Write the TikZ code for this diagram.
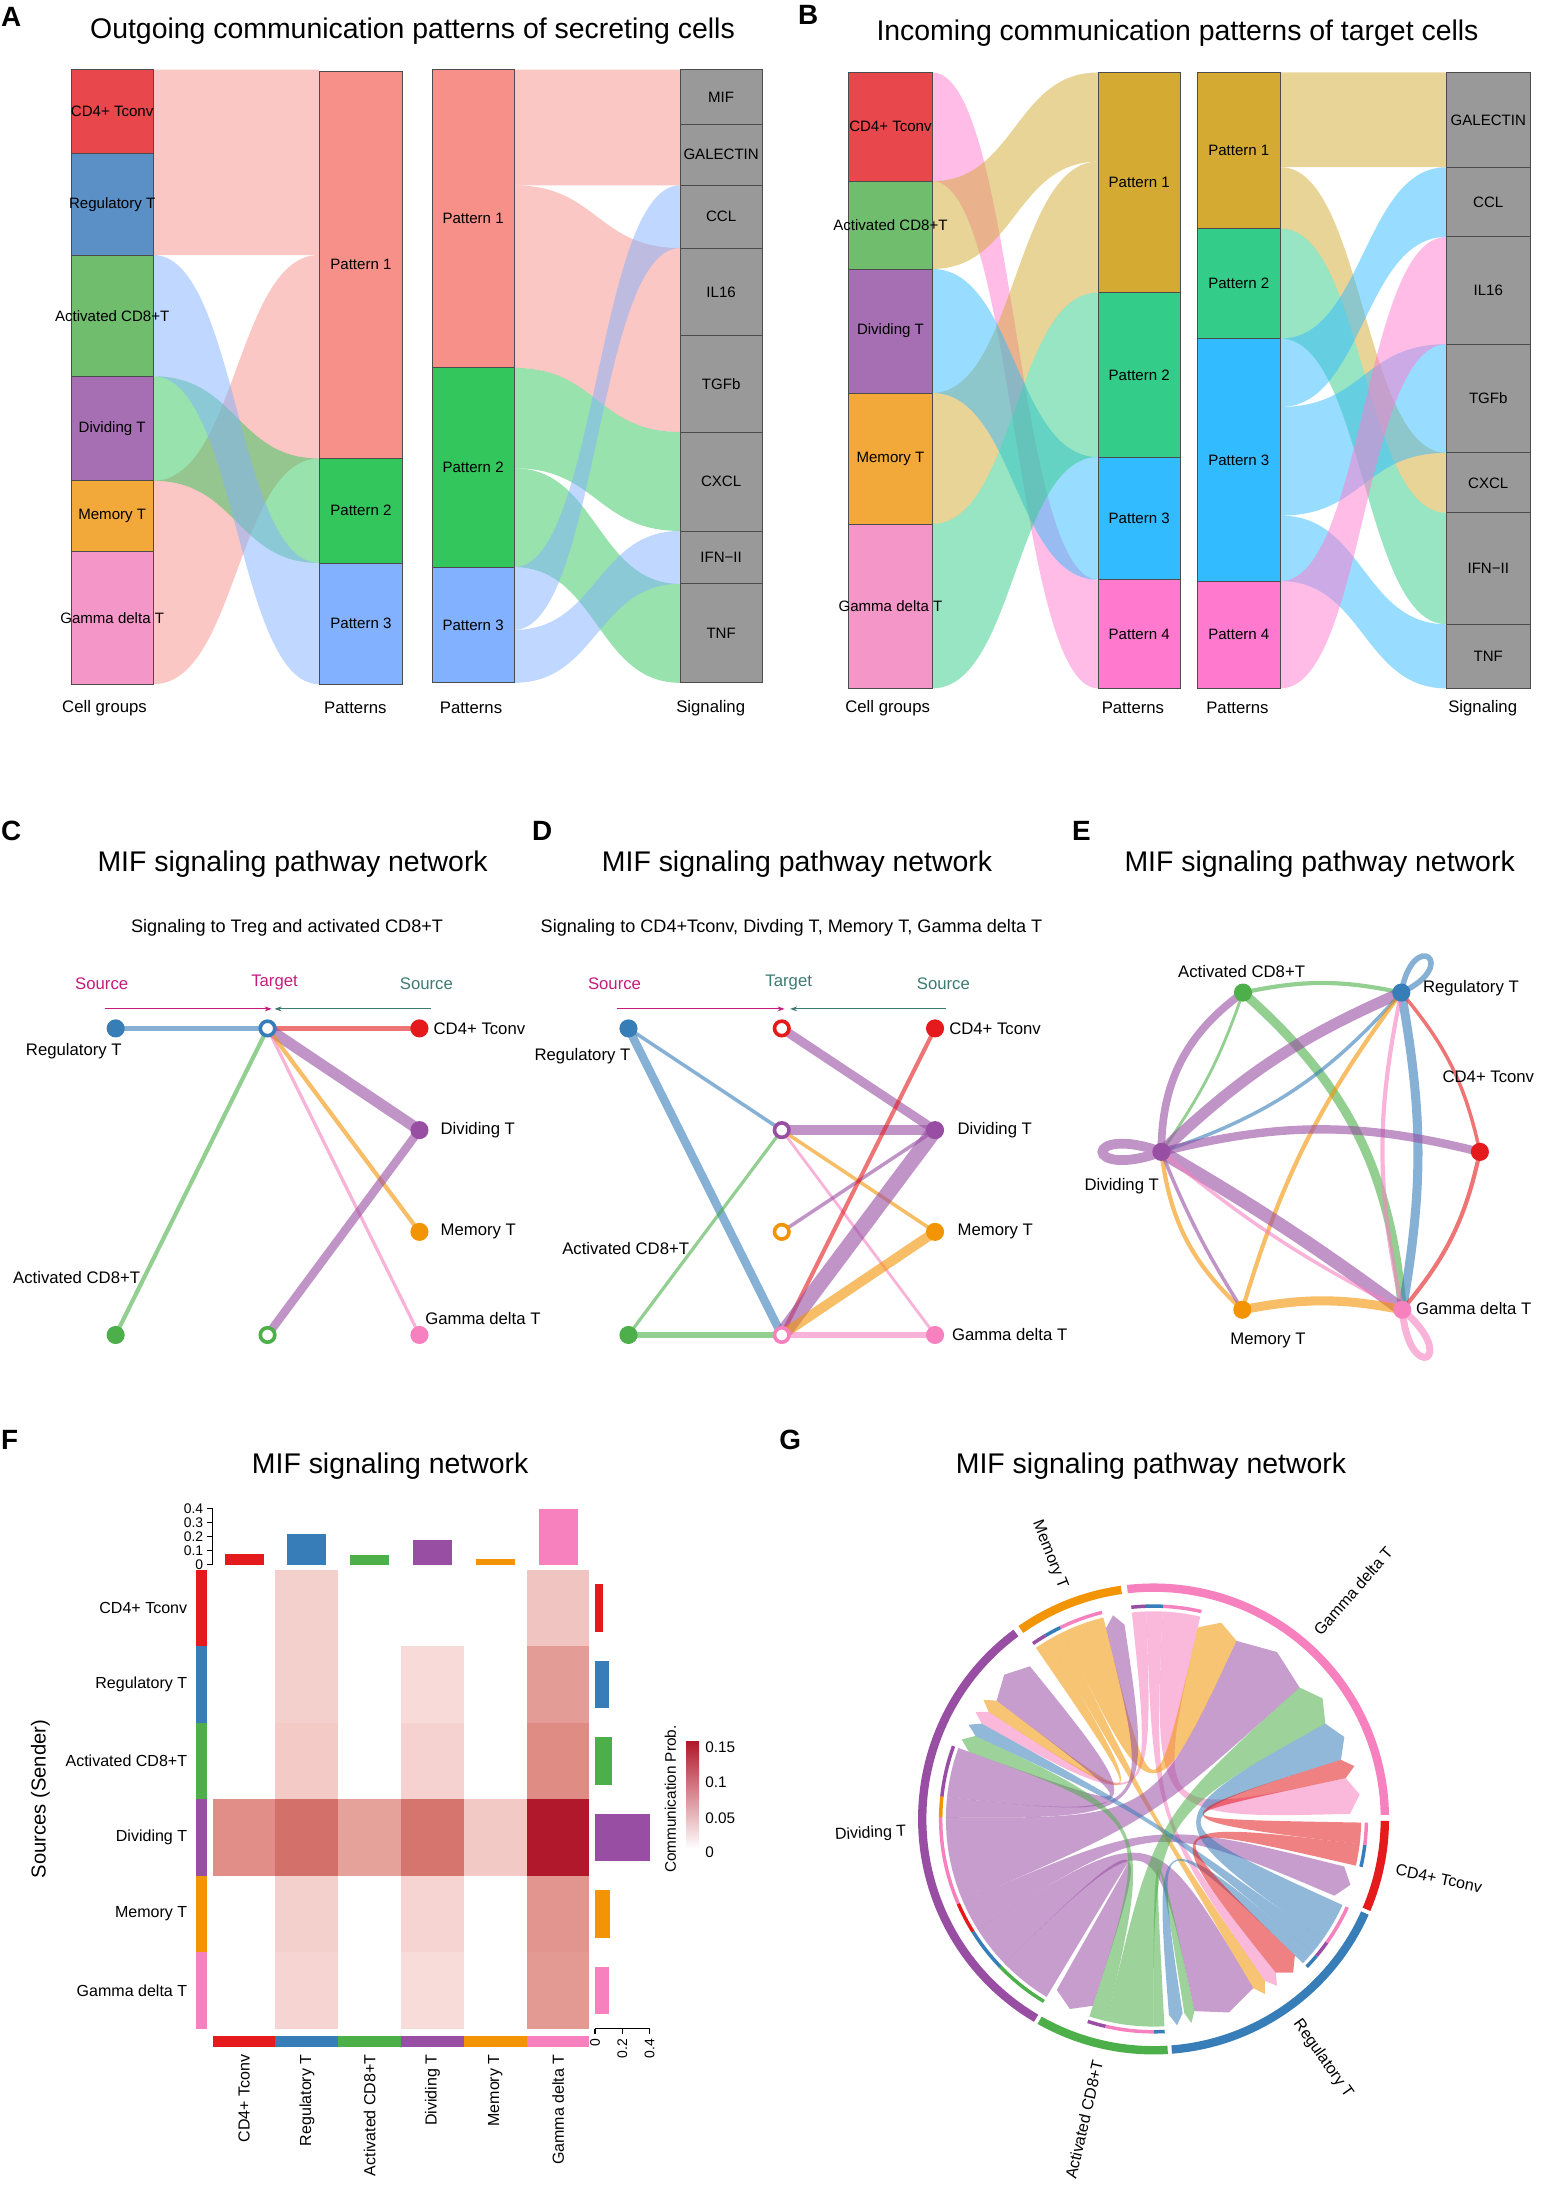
\documentclass[tikz,border=0pt]{standalone}
\usepackage{fontspec}
\setmainfont{Liberation Sans}
\usetikzlibrary{arrows.meta}

\definecolor{cd4}{HTML}{E41A1C}
\definecolor{treg}{HTML}{377EB8}
\definecolor{cd8}{HTML}{4DAF4A}
\definecolor{divi}{HTML}{984EA3}
\definecolor{memo}{HTML}{F29403}
\definecolor{gdt}{HTML}{F781BF}
\definecolor{rCD4}{HTML}{E8474B}
\definecolor{rReg}{HTML}{5A90C6}
\definecolor{rCD8}{HTML}{70BD6D}
\definecolor{rDiv}{HTML}{A66FB3}
\definecolor{rMem}{HTML}{F3A93A}
\definecolor{rGdt}{HTML}{F596C9}
\definecolor{pA1}{HTML}{F8908A}
\definecolor{pA2}{HTML}{33C65C}
\definecolor{pA3}{HTML}{82B1FF}
\definecolor{pB1}{HTML}{D4AA33}
\definecolor{pB2}{HTML}{33CC88}
\definecolor{pB3}{HTML}{33BBFF}
\definecolor{pB4}{HTML}{FF7ACF}
\definecolor{sig}{HTML}{999999}
\definecolor{srcc}{HTML}{C51B7D}
\definecolor{tgtc}{HTML}{3D7A72}
\definecolor{hmDark}{HTML}{B2182B}
\definecolor{hmMid}{HTML}{E0908A}

\pgfdeclarelayer{paper}
\pgfdeclarelayer{bg}
\pgfsetlayers{paper,bg,main}

\tikzset{
  panel/.style={font=\fontsize{20}{24}\selectfont\bfseries},
  ttl/.style={font=\fontsize{20.4}{24}\selectfont},
  subttl/.style={font=\fontsize{13}{15}\selectfont},
  axlbl/.style={font=\fontsize{12}{14}\selectfont},
  boxlbl/.style={font=\fontsize{10.8}{12}\selectfont, inner sep=0pt},
  nlbl/.style={font=\fontsize{12}{14}\selectfont, inner sep=1pt},
  smlbl/.style={font=\fontsize{11.5}{13}\selectfont, inner sep=1.5pt},
  tklbl/.style={font=\fontsize{10}{11}\selectfont, inner sep=1pt},
  boxline/.style={draw=black!70, line width=0.6pt},
  cdot/.style={circle, fill=#1, inner sep=0pt, minimum size=13pt},
  ring/.style={circle, draw=#1, fill=white, line width=2.6pt, inner sep=0pt, minimum size=10.4pt},
  wire/.style={line width=#1pt, opacity=.6},
  hier/.style={line width=0.8pt, -{Stealth[length=5pt,width=3.5pt]}},
}

\begin{document}
\begin{tikzpicture}[x=1pt, y=-1pt]
\begin{pgfonlayer}{paper}
\fill[white] (0,0) rectangle (1108,1568);
\end{pgfonlayer}
\useasboundingbox (0,0) rectangle (1108,1568);

\node[panel] (A) at (8,12) {A};
\node[ttl] (ttlA) at (296,22) {Outgoing communication patterns of secreting cells};
\foreach \ya/\yb/\yc/\yd/\cl in {50/183/50/183/pA1, 345/491/183/329/pA1, 270/345/329/404/pA2, 183/270/404/491/pA3}
  \fill[\cl, opacity=.5] (110,\ya) .. controls (170,\ya) and (170,\yc) .. (229,\yc) -- (229,\yd) .. controls (170,\yd) and (170,\yb) .. (110,\yb) -- cycle;
\foreach \ya/\yb/\yc/\yd/\cl in {50/133/50/133/pA1, 133/264/178/310/pA1, 264/336/310/381/pA2, 336/407/419/490/pA2, 407/452/133/178/pA3, 452/490/381/419/pA3}
  \fill[\cl, opacity=.5] (369,\ya) .. controls (428.5,\ya) and (428.5,\yc) .. (488,\yc) -- (488,\yd) .. controls (428.5,\yd) and (428.5,\yb) .. (369,\yb) -- cycle;
\foreach \k/\ya/\yb/\cl/\lab in {1/50/110/rCD4/CD4+ Tconv, 2/110/183/rReg/Regulatory T, 3/183/270/rCD8/Activated CD8+T, 4/270/345/rDiv/Dividing T, 5/345/396/rMem/Memory T, 6/396/491/rGdt/Gamma delta T} {
  \draw[boxline, fill=\cl] (51,\ya) rectangle (110,\yb);
  \node[boxlbl] (aCell\k) at (80.5,{(\ya+\yb)/2}) {\lab};
}
\foreach \k/\ya/\yb/\cl in {1/51/329/pA1, 2/329/404/pA2, 3/404/491/pA3} {
  \draw[boxline, fill=\cl] (229,\ya) rectangle (289,\yb);
  \node[boxlbl] (aPatL\k) at (259,{(\ya+\yb)/2}) {Pattern \k};
}
\foreach \k/\ya/\yb/\cl in {1/50/264/pA1, 2/264/407/pA2, 3/407/490/pA3} {
  \draw[boxline, fill=\cl] (310,\ya) rectangle (369,\yb);
  \node[boxlbl] (aPatR\k) at (339.5,{(\ya+\yb)/2}) {Pattern \k};
}
\foreach \k/\ya/\yb/\lab in {1/50/89/MIF, 2/89/133/GALECTIN, 3/133/178/CCL, 4/178/241/IL16, 5/241/310/TGFb, 6/310/381/CXCL, 7/381/419/IFN−II, 8/419/490/TNF} {
  \draw[boxline, fill=sig] (488,\ya) rectangle (547,\yb);
  \node[boxlbl] (aSig\k) at (517.5,{(\ya+\yb)/2}) {\lab};
}
\node[axlbl] (aX1) at (75,508) {Cell groups};
\node[axlbl] (aX2) at (255,508) {Patterns};
\node[axlbl] (aX3) at (338,508) {Patterns};
\node[axlbl] (aX4) at (510,508) {Signaling};

\node[panel] (B) at (580,11) {B};
\node[ttl] (ttlB) at (845,24) {Incoming communication patterns of target cells};
\foreach \ya/\yb/\yc/\yd/\cl in {52/130/416/494/pB4, 130/193/52/116/pB1, 282/376/116/210/pB1, 193/282/328/416/pB3, 376/494/210/328/pB2}
  \fill[\cl, opacity=.5] (669,\ya) .. controls (728.5,\ya) and (728.5,\yc) .. (788,\yc) -- (788,\yd) .. controls (728.5,\yd) and (728.5,\yb) .. (669,\yb) -- cycle;
\foreach \ya/\yb/\yc/\yd/\cl in {52/120/52/120/pB1, 120/164/325/368/pB1, 164/243/368/448/pB2, 243/292/120/170/pB3, 292/370/247/325/pB3, 370/417/448/494/pB3, 417/494/170/247/pB4}
  \fill[\cl, opacity=.5] (919,\ya) .. controls (978.5,\ya) and (978.5,\yc) .. (1038,\yc) -- (1038,\yd) .. controls (978.5,\yd) and (978.5,\yb) .. (919,\yb) -- cycle;
\foreach \k/\ya/\yb/\cl/\lab in {1/52/130/rCD4/CD4+ Tconv, 2/130/193/rCD8/Activated CD8+T, 3/193/282/rDiv/Dividing T, 4/282/376/rMem/Memory T, 5/376/494/rGdt/Gamma delta T} {
  \draw[boxline, fill=\cl] (609,\ya) rectangle (669,\yb);
  \node[boxlbl] (bCell\k) at (639,{(\ya+\yb)/2}) {\lab};
}
\foreach \k/\ya/\yb/\cl in {1/52/210/pB1, 2/210/328/pB2, 3/328/416/pB3, 4/416/494/pB4} {
  \draw[boxline, fill=\cl] (788,\ya) rectangle (847,\yb);
  \node[boxlbl] (bPatL\k) at (817.5,{(\ya+\yb)/2}) {Pattern \k};
}
\foreach \k/\ya/\yb/\cl in {1/52/164/pB1, 2/164/243/pB2, 3/243/417/pB3, 4/417/494/pB4} {
  \draw[boxline, fill=\cl] (859,\ya) rectangle (919,\yb);
  \node[boxlbl] (bPatR\k) at (889,{(\ya+\yb)/2}) {Pattern \k};
}
\foreach \k/\ya/\yb/\lab in {1/52/120/GALECTIN, 2/120/170/CCL, 3/170/247/IL16, 4/247/325/TGFb, 5/325/368/CXCL, 6/368/448/IFN−II, 7/448/494/TNF} {
  \draw[boxline, fill=sig] (1038,\ya) rectangle (1098,\yb);
  \node[boxlbl] (bSig\k) at (1068,{(\ya+\yb)/2}) {\lab};
}
\node[axlbl] (bX1) at (637,508) {Cell groups};
\node[axlbl] (bX2) at (813,508) {Patterns};
\node[axlbl] (bX3) at (888,508) {Patterns};
\node[axlbl] (bX4) at (1064,508) {Signaling};

\node[panel] (C) at (8,596) {C};
\node[ttl] (ttlC) at (210,620) {MIF signaling pathway network};
\node[subttl] (subC) at (206,666) {Signaling to Treg and activated CD8+T};
\node[nlbl, srcc] (cSrc1) at (73,706) {Source};
\node[nlbl, srcc] (cTgt) at (197,705) {Target};
\node[nlbl, tgtc] (cSrc2) at (306,706) {Source};
\coordinate (cA1) at (75,724);
\coordinate (cA2) at (195,724);
\coordinate (cB1) at (309,724);
\coordinate (cB2) at (197,724);
\draw[hier, srcc] (cA1) -- (cA2);
\draw[hier, tgtc] (cB1) -- (cB2);
\node[cdot=treg] (cReg) at (83,738) {};
\node[ring=treg] (cRegT) at (192,738) {};
\node[cdot=cd4] (cCD4) at (301,738) {};
\node[cdot=divi] (cDiv) at (301,811) {};
\node[cdot=memo] (cMem) at (301,884) {};
\node[cdot=gdt] (cGdt) at (301,958) {};
\node[cdot=cd8] (cCD8) at (83,958) {};
\node[ring=cd8] (cCD8T) at (192,958) {};
\begin{pgfonlayer}{bg}
\draw[treg, wire=3.5] (cReg.center) -- (cRegT.center);
\draw[cd4, wire=3.5] (cCD4.center) -- (cRegT.center);
\draw[divi, wire=8] (cDiv.center) -- (cRegT.center);
\draw[memo, wire=3] (cMem.center) -- (cRegT.center);
\draw[gdt, wire=2.3] (cGdt.center) -- (cRegT.center);
\draw[cd8, wire=3] (cCD8.center) -- (cRegT.center);
\draw[divi, wire=6] (cDiv.center) -- (cCD8T.center);
\end{pgfonlayer}
\node[nlbl] (cRegL) at (53,754) {Regulatory T};
\node[nlbl, anchor=west] (cCD4L) at (310,738) {CD4+ Tconv};
\node[nlbl, anchor=west] (cDivL) at (315,811) {Dividing T};
\node[nlbl, anchor=west] (cMemL) at (315,884) {Memory T};
\node[nlbl] (cCD8L) at (55,917) {Activated CD8+T};
\node[nlbl, anchor=west] (cGdtL) at (304,946) {Gamma delta T};

\node[panel] (D) at (389,596) {D};
\node[ttl] (ttlD) at (572,620) {MIF signaling pathway network};
\node[subttl] (subD) at (568,666) {Signaling to CD4+Tconv, Divding T, Memory T, Gamma delta T};
\node[nlbl, srcc] (dSrc1) at (441,706) {Source};
\node[nlbl, tgtc] (dTgt) at (566,705) {Target};
\node[nlbl, tgtc] (dSrc2) at (677,706) {Source};
\coordinate (dA1) at (443,724);
\coordinate (dA2) at (563,724);
\coordinate (dB1) at (679,724);
\coordinate (dB2) at (567,724);
\draw[hier, srcc] (dA1) -- (dA2);
\draw[hier, tgtc] (dB1) -- (dB2);
\node[cdot=treg] (dReg) at (451,738) {};
\node[ring=cd4] (dCD4T) at (561,738) {};
\node[cdot=cd4] (dCD4) at (671,738) {};
\node[ring=divi] (dDivT) at (561,811) {};
\node[cdot=divi] (dDiv) at (671,811) {};
\node[ring=memo] (dMemT) at (561,884) {};
\node[cdot=memo] (dMem) at (671,884) {};
\node[cdot=cd8] (dCD8) at (451,958) {};
\node[ring=gdt] (dGdtT) at (561,958) {};
\node[cdot=gdt] (dGdt) at (671,958) {};
\begin{pgfonlayer}{bg}
\draw[treg, wire=2.5] (dReg.center) -- (dDivT.center);
\draw[treg, wire=6] (dReg.center) -- (dGdtT.center);
\draw[divi, wire=6.5] (dDiv.center) -- (dCD4T.center);
\draw[divi, wire=7] (dDiv.center) -- (dDivT.center);
\draw[cd8, wire=2.3] (dCD8.center) -- (dDivT.center);
\draw[memo, wire=2.5] (dMem.center) -- (dDivT.center);
\draw[gdt, wire=2] (dGdt.center) -- (dDivT.center);
\draw[divi, wire=2.5] (dDiv.center) -- (dMemT.center);
\draw[cd8, wire=5] (dCD8.center) -- (dGdtT.center);
\draw[cd4, wire=3] (dCD4.center) -- (dGdtT.center);
\draw[divi, wire=11] (dDiv.center) -- (dGdtT.center);
\draw[memo, wire=7] (dMem.center) -- (dGdtT.center);
\draw[gdt, wire=5] (dGdt.center) -- (dGdtT.center);
\end{pgfonlayer}
\node[nlbl] (dRegL) at (418,758) {Regulatory T};
\node[nlbl, anchor=west] (dCD4L) at (680,738) {CD4+ Tconv};
\node[nlbl, anchor=west] (dDivL) at (686,811) {Dividing T};
\node[nlbl, anchor=west] (dMemL) at (686,884) {Memory T};
\node[nlbl] (dCD8L) at (449,896) {Activated CD8+T};
\node[nlbl, anchor=west] (dGdtL) at (682,958) {Gamma delta T};

\node[panel] (E) at (776,596) {E};
\node[ttl] (ttlE) at (947,620) {MIF signaling pathway network};
\node[cdot=cd4] (eCD4) at (1062,826.6) {};
\node[cdot=treg] (eReg) at (1005.6,712.3) {};
\node[cdot=cd8] (eAct) at (892,712.3) {};
\node[cdot=divi] (eDiv) at (833.4,826.6) {};
\node[cdot=memo] (eMem) at (891.5,939.9) {};
\node[cdot=gdt] (eGdt) at (1006.3,939.9) {};
\begin{pgfonlayer}{bg}
\draw[cd8, wire=3] (eAct.center) to[bend left=12] (eReg.center);
\draw[cd8, wire=6.5] (eAct.center) to[bend left=22] (eGdt.center);
\draw[divi, wire=5.5] (eDiv.center) to[bend left=27] (eAct.center);
\draw[cd8, wire=2] (eDiv.center) to[bend right=8] (eAct.center);
\draw[divi, wire=8] (eDiv.center) to[bend left=10] (eReg.center);
\draw[treg, wire=2.5] (eDiv.center) to[bend right=15] (eReg.center);
\draw[memo, wire=3] (eMem.center) to[bend left=10] (eReg.center);
\draw[treg, wire=6.5] (eReg.center) to[bend left=10] (eGdt.center);
\draw[gdt, wire=3] (eReg.center) to[bend right=12] (eGdt.center);
\draw[cd4, wire=2.5] (eReg.center) to[bend left=14] (eCD4.center);
\draw[cd4, wire=3] (eCD4.center) to[bend left=14] (eGdt.center);
\draw[divi, wire=6] (eDiv.center) to[bend left=14] (eCD4.center);
\draw[divi, wire=9.5] (eDiv.center) to[bend left=3] (eGdt.center);
\draw[gdt, wire=2.5] (eDiv.center) to[bend right=6] (eGdt.center);
\draw[memo, wire=3] (eDiv.center) to[bend right=20] (eMem.center);
\draw[divi, wire=2.5] (eDiv.center) to[bend right=5] (eMem.center);
\draw[memo, wire=6.5] (eMem.center) to[bend left=11] (eGdt.center);
\draw[treg, wire=4] (eReg.center) .. controls +(25:48pt) and +(80:48pt) .. (eReg.center);
\draw[divi, wire=7] (eDiv.center) .. controls +(160:60pt) and +(200:60pt) .. (eDiv.center);
\draw[gdt, wire=5] (eGdt.center) .. controls +(-40:55pt) and +(-85:55pt) .. (eGdt.center);
\end{pgfonlayer}
\node[nlbl] (eActL) at (891,697) {Activated CD8+T};
\node[nlbl, anchor=west] (eRegL) at (1020,709) {Regulatory T};
\node[nlbl, anchor=west] (eCD4L) at (1034,773) {CD4+ Tconv};
\node[nlbl] (eDivL) at (805,851) {Dividing T};
\node[nlbl] (eMemL) at (910,962) {Memory T};
\node[nlbl, anchor=west] (eGdtL) at (1015,939) {Gamma delta T};

\node[panel] (F) at (7,1033) {F};
\node[ttl] (ttlF) at (280,1052) {MIF signaling network};
\foreach \rw/\cn/\hx in {1/2/F4D0CD, 1/6/F0C4C0, 2/2/F4D0CD, 2/4/F8DBD9, 2/6/E49D96, 3/2/F3CAC6, 3/4/F5D2CF, 3/6/DF8C85, 4/1/E08E87, 4/2/D4706A, 4/3/E5A29B, 4/4/D6746E, 4/5/F3C9C5, 4/6/B2182B, 5/2/F4D0CD, 5/4/F5D4D1, 5/6/E1958E, 6/2/F5D4D1, 6/4/F8DCDA, 6/6/E39A93} {
  \definecolor{hm}{HTML}{\hx}
  \fill[hm] ({152.6+(\cn-1)*45.07},{1126.5+(\rw-1)*54.9}) rectangle ++(45.07,54.9);
}
\foreach \cl/\lab/\vt/\vr [count=\k] in {cd4/CD4+ Tconv/0.078/0.058, treg/Regulatory T/0.22/0.108, cd8/Activated CD8+T/0.067/0.125, divi/Dividing T/0.18/0.41, memo/Memory T/0.042/0.112, gdt/Gamma delta T/0.40/0.108} {
  \fill[\cl] (140.7,{1126.5+(\k-1)*54.9}) rectangle (148.6,{1126.5+\k*54.9});
  \fill[\cl] ({152.6+(\k-1)*45.07},1460.9) rectangle ({152.6+\k*45.07},1469.1);
  \fill[\cl] ({152.6+(\k-0.5)*45.07-14},{1122.9-\vt*100.5}) rectangle ({152.6+(\k-0.5)*45.07+14},1122.9);
  \fill[\cl] (427,{1126.5+(\k-0.5)*54.9-17}) rectangle ({427+\vr*96},{1126.5+(\k-0.5)*54.9+17});
  \node[smlbl, anchor=east] (fRow\k) at (136,{1126.5+(\k-0.5)*54.9}) {\lab};
  \node[smlbl, anchor=east, rotate=90] (fCol\k) at ({152.6+(\k-0.5)*45.07},1472.6) {\lab};
}
\draw[line width=0.8pt] (152.6,1082.7) -- (152.6,1122.9);
\foreach \val [count=\k] in {0,0.1,0.2,0.3,0.4} {
  \draw[line width=0.8pt] (148.6,{1122.9-\val*100.5}) -- (152.6,{1122.9-\val*100.5});
  \node[tklbl, anchor=east] (fTop\k) at (147,{1122.9-\val*100.5}) {\val};
}
\draw[line width=0.8pt] (427,1455.9) -- (466.2,1455.9);
\foreach \val [count=\k] in {0,0.2,0.4} {
  \draw[line width=0.8pt] ({427+\val*98},1455.9) -- ({427+\val*98},1459.9);
  \node[tklbl, anchor=east, rotate=90] (fRgt\k) at ({427+\val*98},1462) {\val};
}
\node[font=\fontsize{14.5}{16}\selectfont, rotate=90] (fYlab) at (29,1291) {Sources (Sender)};
\shade[top color=hmDark, middle color=hmMid, bottom color=white] (492.4,1250) rectangle (501.7,1326.6);
\node[font=\fontsize{11}{12}\selectfont, rotate=90] (fLeg) at (481,1291) {Communication Prob.};
\foreach \val/\yy [count=\k] in {0.15/1253.6, 0.1/1279.3, 0.05/1304.6, 0/1329.5}
  \node[tklbl, anchor=west, font=\fontsize{11}{12}\selectfont] (fLeg\k) at (505,\yy) {\val};

\node[panel] (G) at (567,1033) {G};
\node[ttl] (ttlG) at (826,1052) {MIF signaling pathway network};
\begin{scope}[shift={(827.8,1305.3)}]
\foreach \sa/\sb/\ta/\tb/\cl in {77/87.5/1.5/12/gdt, 87.5/92/304.5/308.5/gdt, 92/96/147/151/gdt,
    104/116/65/77/memo, 116/120.5/300.5/304.5/memo, 120.5/124.5/143/147/memo,
    160/174/129/143/divi, 174/179.5/98.5/104/divi, 179.5/203.5/42/65/divi, 203.5/212/337/346/divi, 212/224/282/300.5/divi, 224/239/240.5/252/divi,
    252/257/155/160/cd8, 257/270/29/42/cd8, 270/273/279/282/cd8,
    316/320/274.5/278.5/treg, 320/324.5/151/155/treg, 324.5/335.5/17.5/29/treg,
    347/353/308.5/316/cd4, 353/359/12/17.5/cd4}
  \fill[\cl, opacity=.55] (\sa:149pt) arc[start angle=\sa, end angle=\sb, radius=149pt] .. controls (0,0) .. (\ta:141pt) -- ({(\ta+\tb)/2}:149pt) -- (\tb:141pt) .. controls (0,0) .. (\sa:149pt) -- cycle;
\foreach \sa/\sb/\cl in {77/87.5/gdt, 87.5/92/treg, 92/96/divi, 104/116/gdt, 116/120.5/treg, 120.5/124.5/divi,
    160/174/divi, 174/179.5/memo, 179.5/203.5/gdt, 203.5/212/cd4, 212/224/treg, 224/239/cd8,
    252/257/divi, 257/270/gdt, 270/273/treg, 316/320/treg, 320/324.5/divi, 324.5/335.5/gdt, 347/353/treg, 353/359/gdt}
  \fill[\cl] (\sa:154pt) arc[start angle=\sa, end angle=\sb, radius=154pt] -- (\sb:151.5pt) arc[start angle=\sb, end angle=\sa, radius=151.5pt] -- cycle;
\foreach \sa/\sb/\cl in {1/96.5/gdt, 98/125/memo, 126.5/239.5/divi, 240.5/273.5/cd8, 274.5/336/treg, 337/359.5/cd4}
  \fill[\cl] (\sa:169pt) arc[start angle=\sa, end angle=\sb, radius=169pt] -- (\sb:163pt) arc[start angle=\sb, end angle=\sa, radius=163pt] -- cycle;
\node[smlbl, anchor=east, rotate=-68.5] (gMem) at (111.5:176pt) {Memory T};
\node[smlbl, anchor=west, rotate=48.75] (gGdt) at (48.75:176pt) {Gamma delta T};
\node[smlbl, anchor=west, rotate=-11.75] (gCD4) at (348.25:176pt) {CD4+ Tconv};
\node[smlbl, anchor=west, rotate=-54.75] (gReg) at (305.25:176pt) {Regulatory T};
\node[smlbl, anchor=east, rotate=77] (gAct) at (257:176pt) {Activated CD8+T};
\node[smlbl, anchor=east, rotate=3] (gDiv) at (183:176pt) {Dividing T};
\end{scope}
\end{tikzpicture}
\end{document}
